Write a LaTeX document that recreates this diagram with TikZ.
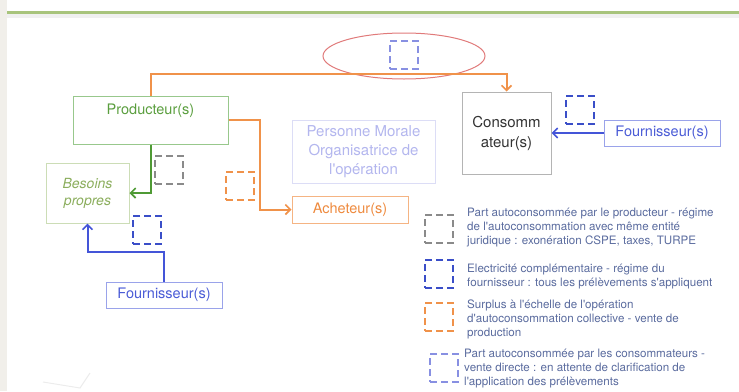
\documentclass[tikz,border=0pt]{standalone}
\usepackage{fontspec}
\setmainfont{TeX Gyre Heros}[Ligatures=TeXOff]
\usetikzlibrary{arrows.meta,calc}
\definecolor{cOr}{HTML}{F0924A}
\definecolor{cOrT}{HTML}{EE8A3E}
\definecolor{cOrB}{HTML}{F5B483}
\definecolor{cGr}{HTML}{4F9A35}
\definecolor{cGrT}{HTML}{5A9E3E}
\definecolor{cGrB}{HTML}{98C88C}
\definecolor{cBeB}{HTML}{CCDDB6}
\definecolor{cBeT}{HTML}{8CAE5E}
\definecolor{cBl}{HTML}{4455D8}
\definecolor{cBlT}{HTML}{4A5BD6}
\definecolor{cBlB}{HTML}{9AA3EA}
\definecolor{cPmT}{HTML}{B3B6EE}
\definecolor{cPmB}{HTML}{DCDDF6}
\definecolor{cCoB}{HTML}{B4B4B4}
\definecolor{cRed}{HTML}{E07A7A}
\definecolor{cLb}{HTML}{8890E2}
\definecolor{cDb}{HTML}{3A4EC8}
\definecolor{cGy}{HTML}{8A8A8A}
\definecolor{cLeg}{HTML}{5A6B9E}
\definecolor{cTop}{HTML}{A8C47C}
\definecolor{cStrip}{HTML}{F1EFEA}
\begin{document}
\begin{tikzpicture}[x=1pt,y=-1pt,
  box/.style={draw, line width=1pt, inner sep=0pt, align=center},
  lbl/.style={font=\fontsize{14.5}{17}\selectfont},
  dsq/.style={draw, line width=2pt, minimum width=28pt, minimum height=28pt, inner sep=0pt, dash pattern=on 7pt off 4pt},
  conn/.style={line width=2pt, -{Straight Barb[length=5pt,width=10pt,line width=1.6pt]}},
  legtxt/.style={anchor=north west, align=left, inner sep=0pt, text=cLeg, font=\fontsize{11.6}{14}\selectfont}
]
\useasboundingbox (0,0) rectangle (739,391);
\fill[cStrip] (0,0) rectangle (7,391);
\draw[line width=4pt, color=gray!12] (7,16) -- (739,16);
\draw[line width=3pt, color=cTop] (7,12) -- (739,12);

% ellipse
\draw[cRed, line width=1pt] (404,56) ellipse [x radius=81, y radius=23];
\node[dsq, draw=cLb] (sqE) at (404,55) {};

% boxes
\node[box, draw=cGrB, minimum width=155pt, minimum height=48pt,
  label={[lbl, text=cGrT, anchor=north, yshift=-5pt]north:Producteur(s)}] (prod) at (150.5,120) {};
\node[box, draw=cBeB, minimum width=83pt, minimum height=60pt, text=cBeT,
  font=\fontsize{14}{17}\itshape] (bes) at (87.5,193) {Besoins\\propres};
\node[box, draw=cPmB, minimum width=143pt, minimum height=63pt, text=cPmT,
  font=\fontsize{15}{19}\selectfont] (pm) at (363.5,151.5) {Personne Morale\\Organisatrice de\\l'opération};
\node[box, draw=cCoB, minimum width=89pt, minimum height=82pt, text=black!80,
  font=\fontsize{15}{20}\selectfont] (cons) at (506.5,133) {Consomm\\ateur(s)};
\node[box, draw=cOrB, minimum width=116pt, minimum height=27pt, text=cOrT, lbl] (ach) at (350,209.5) {Acheteur(s)};
\node[box, draw=cBlB, minimum width=116pt, minimum height=26pt, text=cBlT, lbl] (fourR) at (662,133) {Fournisseur(s)};
\node[box, draw=cBlB, minimum width=116pt, minimum height=26pt, text=cBlT, lbl] (fourL) at (164,295) {Fournisseur(s)};

% connectors
\draw[conn, cOr] (prod.north) -- ++(0,-22) -| (cons.north);
\draw[conn, cOr] (prod.east) -- ++(31,0) |- (ach.west);
\draw[conn, cGr] (prod.south) |- (bes.east);
\draw[conn, cBl] (fourL.north) -- ++(0,-30) -| (bes.south);
\draw[conn, cBl] (fourR.west) -- (cons.east);

% dashed squares on diagram
\node[dsq, draw=cGy] (sqG) at (169,170) {};
\node[dsq, draw=cOr] (sqO) at (240,186) {};
\node[dsq, draw=cDb] (sqB1) at (580,110) {};
\node[dsq, draw=cDb] (sqB2) at (147,230) {};

% legend
\node[dsq, draw=cGy] (lg1) at (439,229) {};
\node[dsq, draw=cDb] (lg2) at (439,274) {};
\node[dsq, draw=cOr] (lg3) at (439,317) {};
\node[dsq, draw=cLb] (lg4) at (444,368) {};
\node[legtxt] (lt1) at (467,208) {Part autoconsommée par le producteur - régime\\de l'autoconsommation avec même entité\\juridique : exonération CSPE, taxes, TURPE};
\node[legtxt] (lt2) at (467,264) {Electricité complémentaire - régime du\\fournisseur : tous les prélèvements s'appliquent};
\node[legtxt] (lt3) at (467,300) {Surplus à l'échelle de l'opération\\d'autoconsommation collective - vente de\\production};
\node[legtxt] (lt4) at (464,349) {Part autoconsommée par les consommateurs -\\vente directe : en attente de clarification de\\l'application des prélèvements};

% faint stroke
\draw[gray!15, line width=1pt] (43,382) -- (80,388) -- (90,373);
\end{tikzpicture}
\end{document}
